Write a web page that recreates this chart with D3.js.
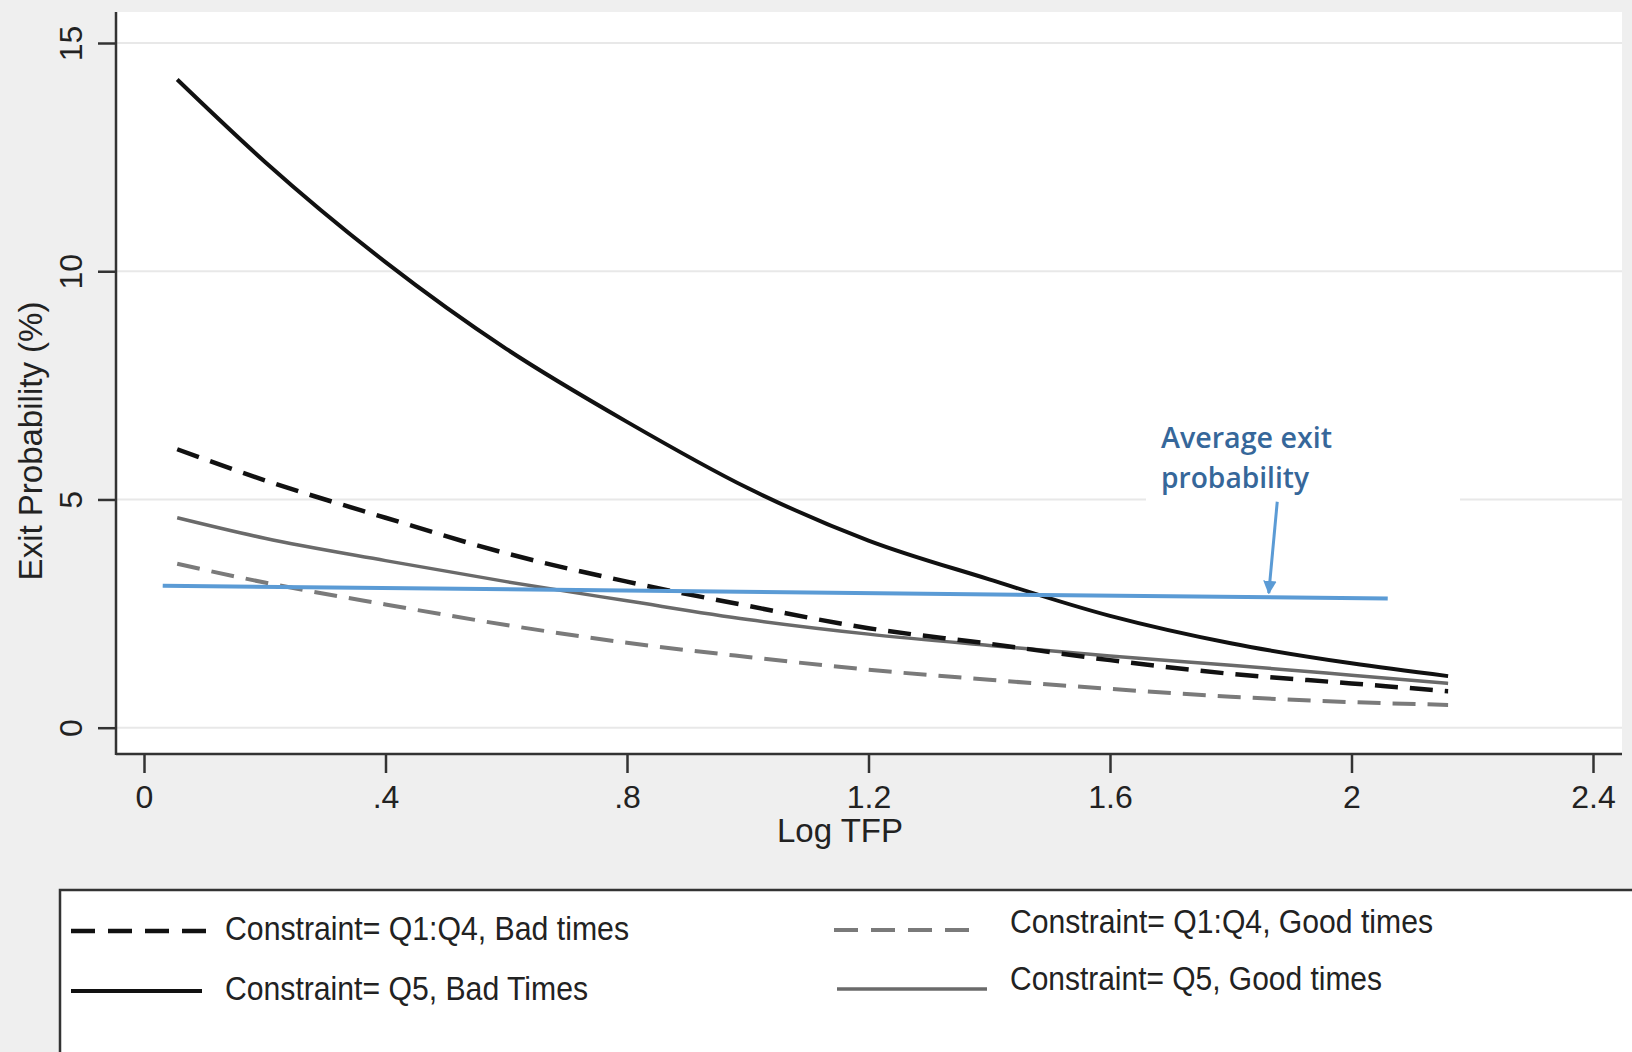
<!DOCTYPE html>
<html>
<head>
<meta charset="utf-8">
<script src="https://cdn.jsdelivr.net/npm/d3@7"></script>
<style>
  html, body { margin: 0; padding: 0; background: #efefef; }
  svg { display: block; font-family: "Liberation Sans", Arial, sans-serif; }
</style>
</head>
<body>
<div id="chart"></div>
<script>
const svgWidth = 1632;
const svgHeight = 1052;

// values
const logTFP   = [0.055, 0.2, 0.4, 0.6, 0.8, 1.0, 1.2, 1.4, 1.6, 1.8, 2.0, 2.16];
const q14Bad   = [6.1, 5.42, 4.6, 3.82, 3.2, 2.67, 2.18, 1.84, 1.48, 1.18, 0.97, 0.80];
const q5Bad    = [14.2, 12.4, 10.2, 8.3, 6.7, 5.25, 4.1, 3.25, 2.45, 1.85, 1.41, 1.13];
const q14Good  = [3.59, 3.18, 2.7, 2.25, 1.86, 1.55, 1.27, 1.05, 0.85, 0.68, 0.56, 0.50];
const q5Good   = [4.6, 4.15, 3.66, 3.2, 2.78, 2.37, 2.05, 1.8, 1.57, 1.37, 1.15, 0.97];

const avgX = [0.031, 2.06];
const avgY = [3.11, 2.83];

const xTicks = [0, 0.4, 0.8, 1.2, 1.6, 2, 2.4];
const xTickLabels = ["0", ".4", ".8", "1.2", "1.6", "2", "2.4"];
const yTicks = [0, 5, 10, 15];

const seriesNames = [
    "Constraint= Q1:Q4, Bad times",
    "Constraint= Q5, Bad Times",
    "Constraint= Q1:Q4, Good times",
    "Constraint= Q5, Good times"
];

const plot = { left: 116, top: 12, right: 1622, bottom: 754 };

const x = d3.scaleLinear().domain([0, 2.4]).range([144, 1593]);
const y = d3.scaleLinear().domain([0, 15]).range([727.7, 43]);

const svg = d3.select("#chart")
    .append("svg")
    .attr("width", svgWidth)
    .attr("height", svgHeight);

svg.append("rect")
    .attr("width", svgWidth)
    .attr("height", svgHeight)
    .attr("fill", "#efefef");

svg.append("rect")
    .attr("x", plot.left)
    .attr("y", plot.top)
    .attr("width", plot.right - plot.left)
    .attr("height", plot.bottom - plot.top)
    .attr("fill", "#ffffff");

// gridlines
svg.append("g")
    .selectAll("line")
    .data(yTicks)
    .enter().append("line")
    .attr("x1", plot.left)
    .attr("x2", plot.right)
    .attr("y1", d => y(d))
    .attr("y2", d => y(d))
    .attr("stroke", "#e8e8e8")
    .attr("stroke-width", 2);

// axes
const yAxis = svg.append("g")
    .attr("transform", `translate(${plot.left}, 0)`)
    .call(d3.axisLeft(y).tickValues(yTicks).tickSize(18).tickFormat(""));
yAxis.select(".domain").remove();
yAxis.selectAll(".tick line").attr("stroke", "#333").attr("stroke-width", 2.5);

yAxis.selectAll(".tick")
    .append("text")
    .attr("transform", "translate(-34, 0) rotate(-90)")
    .attr("text-anchor", "middle")
    .attr("fill", "#222")
    .style("font-size", "32px")
    .text(d => d);

const xAxis = svg.append("g")
    .attr("transform", `translate(0, ${plot.bottom})`)
    .call(d3.axisBottom(x).tickValues(xTicks).tickSize(19).tickFormat(""));
xAxis.select(".domain").remove();
xAxis.selectAll(".tick line").attr("stroke", "#333").attr("stroke-width", 2.5);
xAxis.selectAll(".tick")
    .append("text")
    .attr("y", 54)
    .attr("text-anchor", "middle")
    .attr("fill", "#222")
    .style("font-size", "32px")
    .text((d, i) => xTickLabels[i]);

svg.append("line")
    .attr("x1", plot.left).attr("x2", plot.left)
    .attr("y1", plot.top).attr("y2", plot.bottom + 1)
    .attr("stroke", "#333").attr("stroke-width", 2.5);
svg.append("line")
    .attr("x1", plot.left).attr("x2", plot.right)
    .attr("y1", plot.bottom).attr("y2", plot.bottom)
    .attr("stroke", "#333").attr("stroke-width", 2.5);

// axis titles
svg.append("text")
    .attr("transform", "translate(42, 441) rotate(-90)")
    .attr("text-anchor", "middle")
    .attr("fill", "#222")
    .style("font-size", "33px")
    .text("Exit Probability (%)");

svg.append("text")
    .attr("x", 840)
    .attr("y", 842)
    .attr("text-anchor", "middle")
    .attr("fill", "#222")
    .style("font-size", "33px")
    .text("Log TFP");

// annotation backdrop
svg.append("rect")
    .attr("x", 1146).attr("y", 412)
    .attr("width", 314).attr("height", 94)
    .attr("fill", "#ffffff");

// series
const styles = [
    { vals: q14Bad,  color: "#111111", width: 4.5, dash: "23,12" },
    { vals: q5Bad,   color: "#111111", width: 4,   dash: null },
    { vals: q14Good, color: "#7a7a7a", width: 4,   dash: "23,12" },
    { vals: q5Good,  color: "#6a6a6a", width: 3.5, dash: null }
];

const line = d3.line()
    .x(d => x(d[0]))
    .y(d => y(d[1]))
    .curve(d3.curveMonotoneX);

const drawOrder = [2, 3, 0, 1];
drawOrder.forEach(i => {
    const s = styles[i];
    svg.append("path")
        .datum(logTFP.map((v, j) => [v, s.vals[j]]))
        .attr("d", line)
        .attr("fill", "none")
        .attr("stroke", s.color)
        .attr("stroke-width", s.width)
        .attr("stroke-dasharray", s.dash);
});

// average exit probability line
svg.append("path")
    .datum(avgX.map((v, j) => [v, avgY[j]]))
    .attr("d", d3.line().x(d => x(d[0])).y(d => y(d[1])))
    .attr("fill", "none")
    .attr("stroke", "#5b9bd5")
    .attr("stroke-width", 4);

svg.append("defs").append("marker")
    .attr("id", "arrow")
    .attr("viewBox", "0 0 10 10")
    .attr("refX", 9).attr("refY", 5)
    .attr("markerWidth", 4.5).attr("markerHeight", 4.5)
    .attr("orient", "auto")
    .append("path")
    .attr("d", "M0,0 L10,5 L0,10 z")
    .attr("fill", "#5b9bd5");

svg.append("line")
    .attr("x1", x(1.877)).attr("y1", y(4.95))
    .attr("x2", x(1.863)).attr("y2", y(2.95))
    .attr("stroke", "#5b9bd5")
    .attr("stroke-width", 3)
    .attr("marker-end", "url(#arrow)");

const note = svg.append("text")
    .attr("fill", "#36679a")
    .style("font-family", "'Open Sans', 'Noto Sans', sans-serif")
    .style("font-weight", "600")
    .style("font-size", "28px");
note.append("tspan").attr("x", 1161).attr("y", 448)
    .attr("textLength", 171).attr("lengthAdjust", "spacingAndGlyphs")
    .text("Average exit");
note.append("tspan").attr("x", 1161).attr("y", 488)
    .attr("textLength", 148).attr("lengthAdjust", "spacingAndGlyphs")
    .text("probability");

// legend
svg.append("rect")
    .attr("x", 60).attr("y", 890)
    .attr("width", 1600).attr("height", 200)
    .attr("fill", "#ffffff")
    .attr("stroke", "#333")
    .attr("stroke-width", 2.5);

const legendPos = [
    { x1: 71, x2: 206, ly: 931, tx: 225, ty: 940, len: 404 },
    { x1: 71, x2: 202, ly: 991, tx: 225, ty: 1000, len: 363 },
    { x1: 834, x2: 978, ly: 930, tx: 1010, ty: 933, len: 423 },
    { x1: 837, x2: 987, ly: 989, tx: 1010, ty: 990, len: 372 }
];

seriesNames.forEach((name, i) => {
    const p = legendPos[i];
    const s = styles[i];
    svg.append("line")
        .attr("x1", p.x1).attr("x2", p.x2)
        .attr("y1", p.ly).attr("y2", p.ly)
        .attr("stroke", s.color)
        .attr("stroke-width", s.width)
        .attr("stroke-dasharray", s.dash ? "24,13" : null);
    svg.append("text")
        .attr("x", p.tx)
        .attr("y", p.ty)
        .attr("textLength", p.len)
        .attr("lengthAdjust", "spacingAndGlyphs")
        .attr("fill", "#222")
        .style("font-size", "33px")
        .text(name);
});
</script>
</body>
</html>
